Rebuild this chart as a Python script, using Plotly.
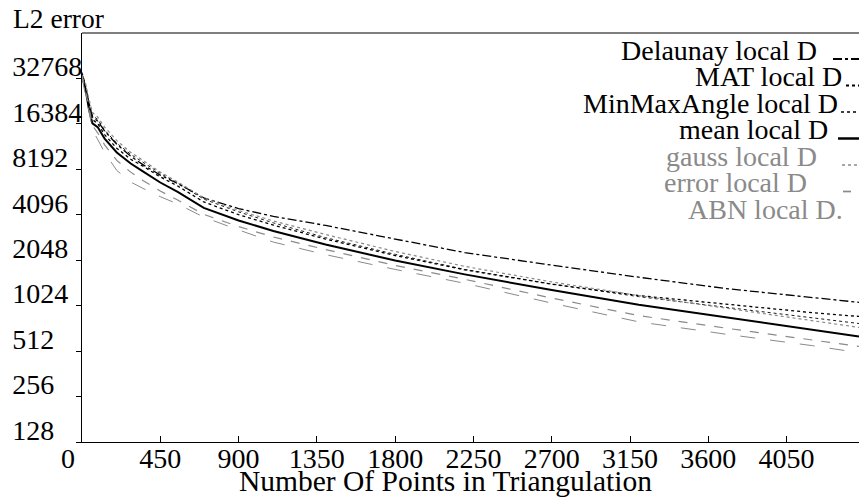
import plotly.graph_objects as go

# ---------------- data ----------------
x_points = [0, 20, 40, 60, 90, 130, 200, 280, 350, 450, 550, 700, 900, 1100,
            1400, 1800, 2200, 2700, 3200, 3700, 4200, 4466]

delaunay_local_d = [35000, 28500, 22500, 18200, 17100, 14700, 12000, 10000, 8800, 7500, 6600,
                    5300, 4500, 4000, 3480, 2820, 2300, 1900, 1580, 1330, 1160, 1077]
mat_local_d = [35000, 28500, 21500, 17500, 16500, 13900, 11300, 9550, 8600, 7300, 6350,
               4980, 4100, 3500, 2830, 2200, 1770, 1420, 1195, 1050, 920, 869]
minmaxangle_local_d = [36000, 30000, 22500, 18500, 17600, 14900, 12200, 10300, 9130, 7700, 6650,
                       5200, 4280, 3620, 2890, 2240, 1780, 1425, 1175, 1000, 853, 780]
mean_local_d = [34000, 28000, 20500, 16500, 15600, 13100, 10600, 8950, 7950, 6700, 5800,
                4550, 3750, 3200, 2600, 2040, 1650, 1300, 1040, 860, 710, 640]
gauss_local_d = [33000, 30500, 23900, 19500, 18200, 15600, 12700, 10600, 9400, 7850, 6760,
                 5300, 4370, 3730, 3030, 2340, 1865, 1470, 1195, 987, 815, 735]
error_local_d = [34500, 27500, 21100, 16000, 14300, 11900, 9380, 7850, 6920, 5880, 5130,
                 4120, 3420, 2920, 2410, 1890, 1530, 1150, 880, 727, 610, 550]
abn_local_d = [33000, 26000, 19900, 15000, 12800, 10600, 8050, 6750, 6130, 5400, 4830,
               3950, 3250, 2700, 2230, 1780, 1440, 1065, 800, 663, 556, 500]

series_names = ["Delaunay local D", "MAT local D", "MinMaxAngle local D", "mean local D",
                "gauss local D", "error local D", "ABN local D."]
series_values = [delaunay_local_d, mat_local_d, minmaxangle_local_d, mean_local_d,
                 gauss_local_d, error_local_d, abn_local_d]

x_tick_vals = [0, 450, 900, 1350, 1800, 2250, 2700, 3150, 3600, 4050]
x_tick_labels = ["0", "450", "900", "1350", "1800", "2250", "2700", "3150", "3600", "4050"]
y_tick_vals = [128, 256, 512, 1024, 2048, 4096, 8192, 16384, 32768]
y_tick_labels = ["128", "256", "512", "1024", "2048", "4096", "8192", "16384", "32768"]

x_title = "Number Of Points in Triangulation"
y_title = "L2 error"

# ---------------- styles ----------------
BLACK = "#000000"
GREY = "#8a8a8a"
styles = [
    dict(color=BLACK, dash="dashdot", width=1.3),
    dict(color=BLACK, dash="dot", width=1.3),
    dict(color=BLACK, dash="dot", width=0.9),
    dict(color=BLACK, dash="solid", width=2.0),
    dict(color=GREY, dash="dot", width=1.2),
    dict(color=GREY, dash="dash", width=1.2),
    dict(color=GREY, dash="longdash", width=1.0),
]
legend_right_px = [819, 844, 840, 830, 819, 809, 845]
legend_sample_px = [(833, 859), (846, 859), (841, 859), (838, 859), (842, 859), (843, 851), None]

W, H = 859, 499
L, R, T, B = 82, 0, 33, 57
PW, PH = W - L - R, H - T - B


def px_to_paper(px, py):
    return (px - L) / PW, (H - B - py) / PH


FONT = "Times New Roman, Liberation Serif, Times, serif"

fig = go.Figure()
for name, vals, st in zip(series_names, series_values, styles):
    fig.add_trace(go.Scatter(x=x_points, y=vals, mode="lines", name=name,
                             line=dict(color=st["color"], dash=st["dash"], width=st["width"]),
                             showlegend=False))

# y tick labels padded with figure spaces so they appear left-aligned
max_len = max(len(t) for t in y_tick_labels)
y_tick_text = [t + "\u2007" * (max_len - len(t)) for t in y_tick_labels]
x_tick_text = [t + ("\u2007\u2007" if t == "0" else "") for t in x_tick_labels]

fig.update_layout(
    template="none",
    width=W, height=H,
    margin=dict(l=L, r=R, t=T, b=B, pad=0, autoexpand=False),
    paper_bgcolor="white", plot_bgcolor="white",
    font=dict(family=FONT, color=BLACK, size=26),
    xaxis=dict(range=[0, 4466], tickvals=x_tick_vals, ticktext=x_tick_text, automargin=False,
               showgrid=False, zeroline=False, showline=True, linecolor=BLACK, linewidth=1.2,
               ticks="inside", ticklen=6, tickcolor=BLACK, tickwidth=1.2,
               ticklabelstandoff=-9,
               tickfont=dict(size=28, family=FONT, color=BLACK)),
    yaxis=dict(type="log", range=[2.10721, 4.81648], tickvals=y_tick_vals, ticktext=y_tick_text,
               automargin=False,
               showgrid=False, zeroline=False, showline=True, linecolor=BLACK, linewidth=1.2,
               ticks="outside", ticklen=5, tickcolor=BLACK, tickwidth=1.2,
               ticklabelshift=-12, ticklabelstandoff=-12,
               tickfont=dict(size=28, family=FONT, color=BLACK)),
)

# top border
fig.add_shape(type="line", xref="paper", yref="paper", x0=0, x1=1, y0=1, y1=1,
              line=dict(color=BLACK, width=1.2))

# titles
tx, ty = px_to_paper(445, 481)
fig.add_annotation(text=x_title, xref="paper", yref="paper", x=tx, y=ty,
                   xanchor="center", yanchor="middle", showarrow=False,
                   font=dict(size=29.5, family=FONT, color=BLACK))
tx, ty = px_to_paper(11, 18)
fig.add_annotation(text=y_title, xref="paper", yref="paper", x=tx, y=ty,
                   xanchor="left", yanchor="middle", showarrow=False,
                   font=dict(size=27.5, family=FONT, color=BLACK))

# legend (text right-aligned, sample to the right)
text_colors = [BLACK, BLACK, BLACK, BLACK, GREY, GREY, GREY]
for i, (name, st) in enumerate(zip(series_names, styles)):
    cy = 50 + 26.5 * i
    ax, ay = px_to_paper(legend_right_px[i], cy)
    fig.add_annotation(text=name, xref="paper", yref="paper", x=ax, y=ay,
                       xanchor="right", yanchor="middle", showarrow=False,
                       font=dict(size=28, family=FONT, color=text_colors[i]))
    if legend_sample_px[i] is not None:
        x0, y0 = px_to_paper(legend_sample_px[i][0], cy + 9)
        x1, _ = px_to_paper(legend_sample_px[i][1], cy + 9)
        fig.add_shape(type="line", xref="paper", yref="paper", x0=x0, x1=x1, y0=y0, y1=y0,
                      line=dict(color=st["color"], dash=st["dash"], width=st["width"] + 0.5))

fig.write_html("out.html", config={"displayModeBar": False},
               post_script="document.body.style.margin='0px';")
